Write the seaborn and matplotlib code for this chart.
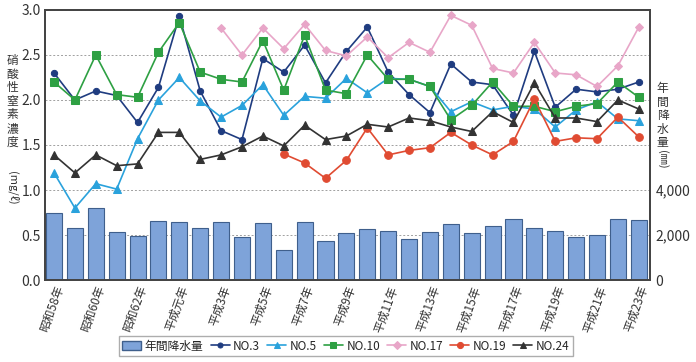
import numpy as np
import pandas as pd
import matplotlib
matplotlib.use("Agg")
import matplotlib.pyplot as plt
import seaborn as sns

# ========================
# Data
# ========================
years = ["昭和58年", "昭和59年", "昭和60年", "昭和61年", "昭和62年", "昭和63年",
         "平成元年", "平成2年", "平成3年", "平成4年", "平成5年", "平成6年", "平成7年",
         "平成8年", "平成9年", "平成10年", "平成11年", "平成12年", "平成13年",
         "平成14年", "平成15年", "平成16年", "平成17年", "平成18年", "平成19年",
         "平成20年", "平成21年", "平成22年", "平成23年"]

rain_mm = [2990, 2300, 3190, 2120, 1940, 2610, 2560, 2300, 2580, 1930,
           2520, 1330, 2590, 1730, 2070, 2250, 2180, 1820, 2120, 2470,
           2070, 2400, 2710, 2330, 2160, 1910, 1990, 2700, 2670]

no3 = [2.30, 2.00, 2.10, 2.05, 1.75, 2.14, 2.93, 2.10, 1.66, 1.56,
       2.46, 2.31, 2.61, 2.19, 2.54, 2.81, 2.31, 2.06, 1.86, 2.40,
       2.20, 2.17, 1.83, 2.54, 1.92, 2.12, 2.09, 2.12, 2.20]
no5 = [1.19, 0.80, 1.07, 1.01, 1.57, 2.00, 2.25, 1.99, 1.81, 1.94,
       2.17, 1.83, 2.04, 2.02, 2.24, 2.08, 2.24, 2.23, 2.15, 1.87,
       1.98, 1.89, 1.93, 1.90, 1.70, 1.89, 1.98, 1.79, 1.77]
no10 = [2.20, 2.00, 2.50, 2.06, 2.03, 2.53, 2.86, 2.31, 2.23, 2.20,
        2.66, 2.11, 2.72, 2.11, 2.07, 2.50, 2.23, 2.23, 2.15, 1.78,
        1.94, 2.20, 1.93, 1.93, 1.87, 1.93, 1.96, 2.20, 2.03]
no17 = [None] * 8 + [2.80, 2.50, 2.80, 2.57, 2.84, 2.55, 2.49, 2.70, 2.47,
                     2.64, 2.53, 2.94, 2.83, 2.35, 2.30, 2.64, 2.30, 2.28,
                     2.15, 2.38, 2.81]
no19 = [None] * 11 + [1.40, 1.30, 1.13, 1.33, 1.69, 1.39, 1.44, 1.47, 1.64,
                      1.50, 1.39, 1.54, 2.01, 1.54, 1.58, 1.57, 1.81, 1.59]
no24 = [1.39, 1.19, 1.39, 1.27, 1.29, 1.64, 1.64, 1.34, 1.39, 1.48,
        1.60, 1.49, 1.72, 1.56, 1.60, 1.73, 1.70, 1.80, 1.77, 1.70,
        1.65, 1.87, 1.75, 2.19, 1.80, 1.80, 1.76, 2.00, 1.90]

# ========================
# Style
# ========================
sns.set_style("white")
plt.rcParams['font.family'] = ['Noto Sans CJK JP', 'DejaVu Sans']

series = [
    ("NO.3", no3, "#1f3c80", "o", 4.5),
    ("NO.5", no5, "#2aa2dc", "^", 5.5),
    ("NO.10", no10, "#2ea043", "s", 5.5),
    ("NO.17", no17, "#e8a6c8", "D", 4.5),
    ("NO.19", no19, "#e04b32", "o", 5.5),
    ("NO.24", no24, "#333333", "^", 5.5),
]

fig = plt.figure(figsize=(6.96, 3.62), dpi=100)
ax = fig.add_axes([0.0647, 0.2265, 0.8693, 0.7459])
ax2 = ax.twinx()
ax.set_zorder(ax2.get_zorder() + 1)
ax.patch.set_visible(False)

# bars: annual rainfall (right axis)
pos = np.arange(len(years))
sns.barplot(x=pos, y=rain_mm, ax=ax2, color="#7ea3d9", edgecolor="#3f5f8c",
            linewidth=0.8, width=0.77, saturation=1, native_scale=True)
ax2.set_ylim(0, 12000)
ax2.set_yticks(range(0, 12001, 2000))
ax2.set_yticklabels(["0", "2,000", "4,000", "", "", "", ""])
ax2.yaxis.grid(True, linestyle=(0, (2, 2)), color="#a0a0a0", linewidth=0.7)
ax2.set_axisbelow(True)
ax2.tick_params(axis="y", length=0, labelsize=10, pad=4, colors="#333333")
ax2.set_ylabel("")

# lines: nitrate nitrogen (left axis)
for name, vals, col, mk, ms in series:
    v = pd.Series(vals, dtype=float)
    ok = v.notna().values
    sns.lineplot(x=pos[ok], y=v[ok].values, ax=ax, color=col, marker=mk,
                 markersize=ms, markeredgecolor=col, linewidth=1.2, label=name)

ax.set_ylim(0, 3.0)
ax.set_yticks(np.arange(0, 3.01, 0.5))
ax.set_yticklabels([f"{t:.1f}" for t in np.arange(0, 3.01, 0.5)])
ax.set_xlim(-0.43, 28.54)
ax.set_xticks(pos[::2])
ax.set_xticklabels(years[::2], rotation=70, ha="right", rotation_mode="anchor",
                   fontsize=8.5)
ax.tick_params(axis="y", length=0, labelsize=10, pad=3, colors="#333333")
ax.tick_params(axis="x", length=0, pad=3, colors="#333333")
ax.set_ylabel("")
for a in (ax, ax2):
    for s in a.spines.values():
        s.set_visible(True)
        s.set_color("#444444")
        s.set_linewidth(1.3)

# axis titles (vertical Japanese)
fig.text(0.018, 0.72, "\n".join("硝酸性窒素濃度"), ha="center", va="center",
         fontsize=8.5, linespacing=1.05, color="#333333")
fig.text(0.018, 0.48, "(mg/ℓ)", ha="center", va="center", rotation=-90,
         fontsize=8, color="#333333")
fig.text(0.952, 0.68, "\n".join("年間降水量"), ha="center", va="center",
         fontsize=8.5, linespacing=1.05, color="#333333")
fig.text(0.952, 0.56, "(㎜)", ha="center", va="center", rotation=-90,
         fontsize=8, color="#333333")

# legend
ax.get_legend().remove()
bar_handle = matplotlib.patches.Patch(facecolor="#7ea3d9", edgecolor="#3f5f8c")
h2, l2 = ax.get_legend_handles_labels()
fig.legend([bar_handle] + h2, ["年間降水量"] + l2, loc="lower center",
           bbox_to_anchor=(0.497, 0.0), ncol=7, fontsize=8.5, frameon=True,
           fancybox=False, edgecolor="#999999", handlelength=1.6,
           handletextpad=0.3, columnspacing=0.6, borderpad=0.3,
           markerscale=0.8)

plt.savefig("out.png", dpi=100)
plt.close()
